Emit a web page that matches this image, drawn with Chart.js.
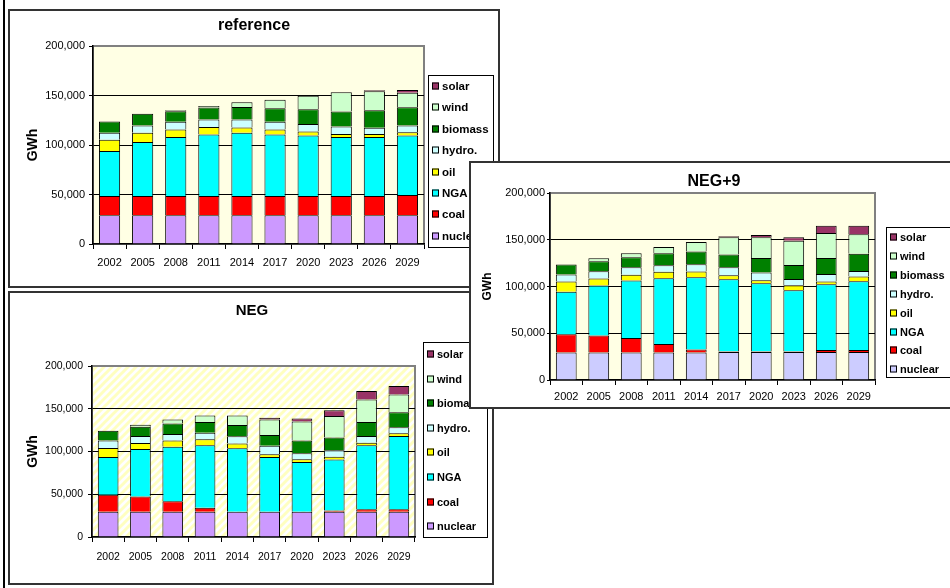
<!DOCTYPE html>
<html>
<head>
<meta charset="utf-8">
<script src="https://cdn.jsdelivr.net/npm/chart.js@4/dist/chart.umd.min.js"></script>
<style>
  html, body { margin: 0; padding: 0; background: #fff; width: 950px; height: 588px; overflow: hidden; position: relative; }
  .edge { position: absolute; left: 3px; top: 0; width: 2px; height: 588px; background: #000; }
  .frame { position: absolute; background: #fff; border: 2px solid #333; box-sizing: border-box; overflow: hidden; }
  .frame canvas { position: absolute; left: 0; top: 0; }
</style>
</head>
<body>
<div class="edge"></div>
<div class="frame" style="left:8px;top:9px;width:492px;height:279px;z-index:1"><canvas id="cRef" width="488" height="275"></canvas></div>
<div class="frame" style="left:8px;top:291px;width:486px;height:294px;z-index:2"><canvas id="cNeg" width="482" height="290"></canvas></div>
<div class="frame" style="left:469px;top:161px;width:484px;height:248px;z-index:3"><canvas id="cNeg9" width="480" height="244"></canvas></div>

<script>
// ---- categories and tick values ----
const years = ['2002', '2005', '2008', '2011', '2014', '2017', '2020', '2023', '2026', '2029'];
const yTicks = [0, 50000, 100000, 150000, 200000];
const seriesNames = ['nuclear', 'coal', 'NGA', 'oil', 'hydro.', 'biomass', 'wind', 'solar'];

// ---- reference scenario (GWh) ----
const refNuclear = [29000, 29000, 29000, 29000, 29000, 29000, 29000, 29000, 29000, 29000];
const refCoal    = [19500, 19500, 19500, 19500, 19500, 19500, 19500, 19500, 19500, 20400];
const refNGA     = [45400, 54500, 59500, 62200, 63900, 62200, 61200, 59500, 59500, 60200];
const refOil     = [11400, 9400, 7700, 7400, 5300, 5000, 4000, 3000, 3000, 3300];
const refHydro   = [7100, 7400, 7800, 7700, 8100, 7800, 7400, 7800, 6400, 6800];
const refBiomass = [11400, 11700, 10700, 12100, 12500, 13700, 15100, 15100, 17800, 18500];
const refWind    = [0, 0, 1000, 1400, 5000, 8400, 13500, 19500, 19200, 14700];
const refSolar   = [0, 0, 0, 0, 0, 0, 0, 0, 1000, 2700];

// ---- NEG scenario (GWh) ----
const negNuclear = [29500, 29500, 29500, 29500, 29500, 29500, 29500, 29500, 29500, 29500];
const negCoal    = [19800, 17900, 12400, 4700, 0, 0, 0, 1500, 3100, 3100];
const negNGA     = [44300, 55500, 63700, 73000, 74200, 64100, 58300, 59500, 74600, 85500];
const negOil     = [10500, 7000, 7400, 7000, 5800, 3100, 3100, 3500, 3100, 3100];
const negHydro   = [8900, 8200, 7400, 7700, 8200, 10100, 7000, 7400, 7800, 7300];
const negBiomass = [11300, 10800, 12400, 12500, 13200, 12400, 15100, 15100, 16300, 17500];
const negWind    = [0, 2400, 4700, 7700, 11200, 18300, 22100, 24900, 26400, 20600];
const negSolar   = [0, 0, 0, 0, 0, 1900, 3500, 6900, 10100, 10100];

// ---- NEG+9 scenario (GWh) ----
const neg9Nuclear = [29500, 29500, 29500, 29500, 29500, 30000, 30000, 30000, 30000, 30000];
const neg9Coal    = [19300, 18200, 15300, 8900, 3200, 500, 500, 500, 2100, 2100];
const neg9NGA     = [45500, 53400, 61600, 70500, 77300, 77300, 73000, 65500, 70300, 73500];
const neg9Oil     = [11000, 7400, 6100, 6800, 6000, 4200, 3200, 5400, 2900, 5000];
const neg9Hydro   = [7500, 7900, 8100, 7100, 7800, 8600, 8200, 6700, 8200, 6100];
const neg9Biomass = [10700, 10600, 10700, 12800, 13600, 13600, 15700, 15000, 17100, 18200];
const neg9Wind    = [0, 3200, 4300, 6700, 10300, 18500, 22200, 25700, 26500, 21100];
const neg9Solar   = [0, 0, 0, 0, 0, 1000, 2400, 4000, 7800, 8900];

const FONT = 'Arial, "Liberation Sans", sans-serif';
Chart.defaults.font.family = FONT;
Chart.defaults.color = '#000';

// fill colours for the stacked series, bottom to top
const baseColors = ['#CC99FF', '#FF0000', '#00FFFF', '#FFFF00', '#CCFFFF', '#008000', '#CCFFCC', '#993366'];

// plot-area background (solid or hatched) with a grey frame
const plotBg = {
  id: 'plotBg',
  beforeDraw(chart, args, opts) {
    const { left, top, right, bottom } = chart.chartArea;
    const ctx = chart.ctx;
    ctx.save();
    if (opts.hatch) {
      const tile = document.createElement('canvas');
      tile.width = 8; tile.height = 8;
      const g = tile.getContext('2d');
      g.fillStyle = '#ffffff'; g.fillRect(0, 0, 8, 8);
      g.strokeStyle = '#FFFFC0'; g.lineWidth = 3;
      g.beginPath();
      g.moveTo(-2, 10); g.lineTo(10, -2);
      g.moveTo(-6, 6); g.lineTo(6, -6);
      g.moveTo(2, 14); g.lineTo(14, 2);
      g.stroke();
      ctx.fillStyle = ctx.createPattern(tile, 'repeat');
    } else {
      ctx.fillStyle = opts.color;
    }
    ctx.fillRect(left, top, right - left, bottom - top);
    ctx.strokeStyle = '#808080';
    ctx.lineWidth = 2;
    ctx.strokeRect(left, top, right - left, bottom - top);
    ctx.restore();
  }
};

// centre the title across the whole frame, not just the area left of the legend
const titleSpan = {
  id: 'titleSpan',
  afterLayout(chart, args, opts) {
    const t = chart.titleBlock;
    if (!t) return;
    const c = opts.center != null ? opts.center : chart.width / 2;
    const half = Math.min(c, chart.width - c);
    t.left = c - half;
    t.right = c + half;
    t.width = 2 * half;
  }
};

// boxed legend listing the series top-down (solar first)
const boxLegend = {
  id: 'boxLegend',
  afterDraw(chart, args, o) {
    const ctx = chart.ctx;
    ctx.save();
    ctx.fillStyle = '#fff';
    ctx.fillRect(o.x, o.y, o.w, o.h);
    ctx.strokeStyle = '#000';
    ctx.lineWidth = 1;
    ctx.strokeRect(o.x + 0.5, o.y + 0.5, o.w, o.h);
    ctx.font = o.font;
    ctx.textBaseline = 'middle';
    ctx.textAlign = 'left';
    const items = chart.data.datasets.slice().reverse();
    items.forEach((d, i) => {
      const cy = Math.round(o.first + i * o.step);
      ctx.fillStyle = d.backgroundColor;
      ctx.fillRect(o.x + o.sw, cy - o.size / 2, o.size, o.size);
      ctx.strokeRect(o.x + o.sw + 0.5, cy - o.size / 2 + 0.5, o.size - 1, o.size - 1);
      ctx.fillStyle = '#000';
      ctx.fillText(d.label, o.x + o.tx, cy + 0.5);
    });
    ctx.restore();
  }
};

function buildDatasets(series, colors) {
  return series.map((vals, i) => ({
    label: seriesNames[i],
    data: vals,
    backgroundColor: colors[i],
    borderColor: '#000',
    borderWidth: 1,
    barPercentage: 0.64,
    categoryPercentage: 1.0
  }));
}

function makeChart(id, s) {
  return new Chart(document.getElementById(id), {
    type: 'bar',
    data: { labels: years, datasets: buildDatasets(s.series, s.colors) },
    plugins: [plotBg, titleSpan, boxLegend],
    options: {
      responsive: false,
      animation: false,
      layout: { padding: { left: 0, right: s.padRight, top: 0, bottom: 0 } },
      plugins: {
        legend: { display: false },
        tooltip: { enabled: false },
        title: {
          display: true,
          text: s.title,
          color: '#000',
          font: { size: s.titleSize, weight: 'bold', family: FONT },
          padding: { top: s.titleTop, bottom: s.titleBottom }
        },
        titleSpan: { center: s.titleCenter },
        plotBg: s.bg,
        boxLegend: s.legend
      },
      scales: {
        x: {
          stacked: true,
          grid: { display: true, drawOnChartArea: false, drawTicks: true, tickLength: 5, tickColor: '#000', offset: true },
          border: { display: true, color: '#000', width: 1.5 },
          ticks: { font: { size: s.xFont, family: FONT }, color: '#000', padding: s.xPad, maxRotation: 0, autoSkip: false },
          afterFit(scale) { scale.height = s.xHeight; }
        },
        y: {
          stacked: true,
          min: 0,
          max: 200000,
          afterBuildTicks(scale) { scale.ticks = yTicks.map(v => ({ value: v })); },
          grid: {
            color: c => (c.tick && c.tick.value > 0 && c.tick.value < 200000) ? '#000' : 'rgba(0,0,0,0)',
            lineWidth: 1,
            drawTicks: true,
            tickLength: s.yTick,
            tickColor: '#000'
          },
          border: { display: true, color: '#000', width: 1.5 },
          ticks: {
            font: { size: s.yFont, family: FONT },
            color: '#000',
            padding: s.yPad,
            callback: v => Number(v).toLocaleString('en-US')
          },
          title: {
            display: true,
            text: 'GWh',
            color: '#000',
            font: { size: s.gwhSize, weight: 'bold', family: FONT },
            padding: { top: s.gwhPad, bottom: 0 }
          },
          afterFit(scale) { scale.width = s.yWidth; }
        }
      }
    }
  });
}

makeChart('cRef', {
  title: 'reference', titleSize: 16, titleTop: 5, titleBottom: 10.8, titleCenter: 244,
  series: [refNuclear, refCoal, refNGA, refOil, refHydro, refBiomass, refWind, refSolar],
  colors: baseColors,
  padRight: 74, yWidth: 83, yTick: 4, yPad: 4, yFont: 11,
  xHeight: 42, xPad: 7, xFont: 11,
  gwhSize: 14, gwhPad: 14.6,
  bg: { color: '#FFFFE4' },
  legend: { x: 418, y: 64, w: 65, h: 172, first: 75, step: 21.4, sw: 4, size: 7, tx: 14, font: 'bold 11.5px ' + FONT }
});

makeChart('cNeg', {
  title: 'NEG', titleSize: 15, titleTop: 9, titleBottom: 46, titleCenter: 242,
  series: [negNuclear, negCoal, negNGA, negOil, negHydro, negBiomass, negWind, negSolar],
  colors: baseColors,
  padRight: 77, yWidth: 82, yTick: 4, yPad: 5, yFont: 10.5,
  xHeight: 46, xPad: 9, xFont: 10.5,
  gwhSize: 14, gwhPad: 14.6,
  bg: { hatch: true },
  legend: { x: 413, y: 49, w: 64, h: 195, first: 61, step: 24.6, sw: 4, size: 7, tx: 14, font: 'bold 11px ' + FONT }
});

makeChart('cNeg9', {
  title: 'NEG+9', titleSize: 16, titleTop: 9.4, titleBottom: 1.4, titleCenter: 243,
  series: [neg9Nuclear, neg9Coal, neg9NGA, neg9Oil, neg9Hydro, neg9Biomass, neg9Wind, neg9Solar],
  colors: ['#CCCCFF'].concat(baseColors.slice(1)),
  padRight: 76, yWidth: 79, yTick: 3, yPad: 2, yFont: 11,
  xHeight: 27, xPad: 5, xFont: 11,
  gwhSize: 12, gwhPad: 9.8,
  bg: { color: '#FFFFE4' },
  legend: { x: 415, y: 64, w: 80, h: 150, first: 74, step: 18.9, sw: 4, size: 7, tx: 14, font: 'bold 11px ' + FONT }
});
</script>
</body>
</html>
